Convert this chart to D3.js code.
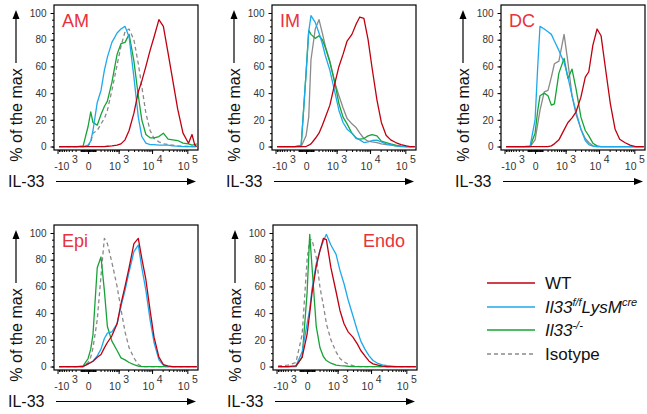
<!DOCTYPE html>
<html>
<head>
<meta charset="utf-8">
<script src="https://d3js.org/d3.v7.min.js"></script>
<style>
body { margin: 0; background: #fff; }
svg { display: block; font-family: Arial, "Liberation Sans", sans-serif; }
</style>
</head>
<body>
<svg id="chart" width="647" height="414"></svg>
<script>
// IL-33 intensity at which every histogram was read (shared by all curves)
const il33Grid = [-890, -400, -170, -60, 0, 30, 60, 130, 210, 300, 400, 590, 890, 1190, 1600, 2130,
    2970, 4000, 5060, 6650, 8780, 11400, 15700, 21000, 28600, 38600, 53500, 75500, 108000, 135500, 162600, 185000]

const panelNames = ["AM", "IM", "DC", "Epi", "Endo"]

// % of the max, one array per genotype and cell type
const amWT = [0, 0, 0, 0, 0, 0, 0, 0, 0, 0, 0.2, 0.5, 1, 2, 5, 12, 25, 41, 49, 60, 72, 82, 95, 90, 70, 50, 28, 10, 2.5, 9, 1, 0]
const amFlox = [0, 0, 0, 0, 1, 4, 12, 33, 42, 57, 67, 78, 85, 88, 90, 82, 52, 22, 7.5, 2.5, 1.5, 1.5, 1, 1, 1, 0.5, 0.3, 0, 0, 0, 0, 0]
const amKO = [0, 0, 0, 0.5, 15, 26, 18, 16, 24, 30, 34, 48, 69, 77, 78, 84, 64, 38, 20, 9, 6.5, 6.5, 7.5, 10, 5.5, 5, 4.5, 2.5, 2, 1, 1.5, 2]
const amIso = [0, 0, 0, 0, 0.5, 3, 10, 12, 17, 21, 27, 42, 61, 75, 86, 88, 80, 62, 45, 25, 12, 6, 3.5, 2, 1.5, 1, 0.5, 0.3, 0, 0, 0, 0]

const imWT = [0, 0, 0, 0, 0, 1, 2, 6, 10, 16, 22, 31, 48, 60, 69, 79, 84, 92, 97, 96, 80, 59, 35, 18, 8.5, 5, 3, 1.5, 0.5, 0, 0, 0]
const imFlox = [0, 0, 0, 1, 55, 86, 98, 93, 85, 77, 68, 57, 40, 27, 18, 13, 10, 6.5, 5, 3, 3.5, 4.5, 4.8, 3.5, 2, 1.5, 0.5, 0.2, 0, 0, 0, 0]
const imKO = [0, 0, 0, 0.5, 55, 87, 84, 81, 83, 80, 74, 63, 47, 32, 22, 17, 10, 6, 5.5, 6, 8, 9, 8, 4, 3, 2, 1, 0.3, 0, 0, 0, 0]
const imIso = [0, 0, 0, 0, 8, 22, 65, 88, 95, 85, 75, 64, 47, 38, 29, 21, 17, 14, 10, 6, 4, 3.5, 3, 2, 1.5, 1, 0.5, 0, 0, 0, 0, 0]

const dcWT = [0, 0, 0, 0, 0, 0, 0, 0, 0, 0.5, 2, 5, 12.5, 18, 21.5, 26, 37, 52, 56, 76, 88, 83, 56, 32, 13, 5.5, 3, 1, 0, 0, 0, 0]
const dcFlox = [0, 0, 0, 0.5, 20, 60, 90, 88, 86, 84, 79, 72, 63, 52, 38, 26, 13, 4.5, 1.5, 0.3, 0, 0, 0, 0, 0, 0, 0, 0, 0, 0, 0, 0]
const dcKO = [0, 0, 0, 0, 10, 27, 38, 40, 38, 31, 32, 55, 66, 51, 58, 43, 22, 12, 8, 2.5, 0.5, 0, 0, 0, 0, 0, 0, 0, 0, 0, 0, 0]
const dcIso = [0, 0, 0, 0, 5, 17, 27, 41, 42, 52, 62, 64, 84, 63, 38, 24, 13, 6, 3, 0.5, 0, 0, 0, 0, 0, 0, 0, 0, 0, 0, 0, 0]

const epiWT = [0, 0, 0, 0, 2, 3, 4, 7, 9, 14, 18, 23, 32, 47, 60, 74, 92, 96, 81, 65, 42, 22, 7, 1.5, 0.3, 0, 0, 0, 0, 0, 0, 0]
const epiFlox = [0, 0, 0, 0, 2, 3, 4, 8, 13, 21, 25, 26, 32, 45, 57, 71, 86, 91, 74, 57, 35, 18, 5, 1, 0.2, 0, 0, 0, 0, 0, 0, 0]
const epiKO = [0, 0, 0, 0.5, 6, 13, 24, 74, 82, 57, 30, 19, 12, 6.5, 5, 3, 1.5, 0.3, 0, 0, 0, 0, 0, 0, 0, 0, 0, 0, 0, 0, 0, 0]
const epiIso = [0, 0, 0, 0, 3, 7, 14, 35, 68, 96, 92, 78, 60, 43, 26, 14, 6.5, 1.5, 0, 0, 0, 0, 0, 0, 0, 0, 0, 0, 0, 0, 0, 0]

const endoWT = [0, 0, 0.5, 7, 24, 40, 55, 75, 87, 96, 95, 74, 56, 42, 32, 26, 22, 17, 12, 8, 4, 2, 1, 0.3, 0, 0, 0, 0, 0, 0, 0, 0]
const endoFlox = [0, 0, 0.3, 11, 32, 43, 58, 77, 87, 94, 99, 91, 84, 72, 62, 50, 38, 27, 19, 13, 8, 4.5, 2.3, 1.2, 0.6, 0.3, 0, 0, 0, 0, 0, 0]
const endoKO = [0, 0, 0, 7, 55, 99, 75, 30, 14, 7.5, 4.5, 2.5, 1, 0.7, 0.5, 0.2, 0, 0, 0, 0, 0, 0, 0, 0, 0, 0, 0, 0, 0, 0, 0, 0]
const endoIso = [0.5, 1, 3, 24, 80, 95, 95, 82, 59, 46, 32, 20, 11, 6, 3.5, 1.8, 0.7, 0.2, 0, 0, 0, 0, 0, 0, 0, 0, 0, 0, 0, 0, 0, 0]

// isotype drawn dashed only in some panels
const isoDashed = [true, false, false, true, true]

// axis ticks
const yTicks = [0, 20, 40, 60, 80, 100]
const xTicks = [-1000, 0, 1000, 10000, 100000]
const xTickBase = ["-10", "0", "10", "10", "10"]
const xTickExp = ["3", "", "3", "4", "5"]

const seriesKeys = ["iso", "ko", "flox", "wt"]
const colors = { wt: "#c00010", flox: "#1ea9ec", ko: "#17a337", iso: "#8a8a8a" }

const panelData = [
    [amIso, amKO, amFlox, amWT],
    [imIso, imKO, imFlox, imWT],
    [dcIso, dcKO, dcFlox, dcWT],
    [epiIso, epiKO, epiFlox, epiWT],
    [endoIso, endoKO, endoFlox, endoWT],
]

// layout
const pw = 144, ph = 145
const panelPos = [[54, 5], [272, 5], [501, 5], [54, 225], [273, 225]]

const svg = d3.select("#chart")

// biexponential-like display, symlog is close enough to FlowJo's logicle
const x = d3.scaleSymlog().constant(160).domain([-1300, 200000]).range([0, pw])
const y = d3.scaleLinear().domain([-2.6, 106]).range([ph, 0])

// minor ticks on the x axis
const minorX = []
for (let k = 1; k <= 4; k++) {
    for (let m = 1; m <= 9; m++) {
        const v = m * Math.pow(10, k)
        if (v < 200000) minorX.push(v)
        if (v < 1000) minorX.push(-v)
    }
}
const minorY = d3.range(0, 101, 5)

const line = d3.line()
    .x((d, i) => x(il33Grid[i]))
    .y(d => y(d))

panelData.forEach(function (series, p) {
    const [left, top] = panelPos[p]
    const g = svg.append("g").attr("transform", `translate(${left},${top})`)

    g.append("clipPath").attr("id", "clip" + p)
        .append("rect").attr("width", pw).attr("height", ph)

    // curves
    const curves = g.append("g").attr("clip-path", `url(#clip${p})`)
    series.forEach(function (vals, s) {
        const key = seriesKeys[s]
        curves.append("path")
            .datum(vals)
            .attr("d", line)
            .attr("fill", "none")
            .attr("stroke", colors[key])
            .attr("stroke-width", 1.3)
            .attr("stroke-linejoin", "round")
            .attr("stroke-dasharray", key === "iso" && isoDashed[p] ? "4,3" : null)
    })

    // frame
    g.append("rect").attr("width", pw).attr("height", ph)
        .attr("fill", "none").attr("stroke", "#000").attr("stroke-width", 1.2)

    // y axis
    const yMinor = g.append("g").call(d3.axisLeft(y).tickValues(minorY).tickSize(2).tickFormat(""))
    const yMajor = g.append("g").call(d3.axisLeft(y).tickValues(yTicks).tickSize(3.5).tickPadding(4))
    yMajor.selectAll("text").attr("font-size", 10).attr("fill", "#333").attr("font-family", "Arial, 'Liberation Sans', sans-serif")

    // x axis
    const xMinor = g.append("g").attr("transform", `translate(0,${ph})`)
        .call(d3.axisBottom(x).tickValues(minorX).tickSize(2).tickFormat(""))
    const xMajor = g.append("g").attr("transform", `translate(0,${ph})`)
        .call(d3.axisBottom(x).tickValues(xTicks).tickSize(4).tickFormat(""))
    xMajor.selectAll(".tick").append("text")
        .attr("y", 20)
        .attr("dx", (d, i) => i === 0 ? 8 : 0)
        .attr("text-anchor", "middle")
        .attr("font-size", 10.5)
        .attr("fill", "#333")
        .attr("font-family", "Arial, 'Liberation Sans', sans-serif")
        .each(function (d, i) {
            const t = d3.select(this)
            t.append("tspan").text(xTickBase[i])
            if (xTickExp[i]) t.append("tspan").attr("dy", -7).attr("dx", 2.5).text(xTickExp[i])
        })

    ;[yMinor, yMajor, xMinor, xMajor].forEach(a => {
        a.select(".domain").remove()
        a.selectAll("line").attr("stroke", "#000")
    })

    // panel title
    const isEndo = panelNames[p] === "Endo"
    g.append("text")
        .attr("x", isEndo ? pw - 12 : 8)
        .attr("y", 22)
        .attr("text-anchor", isEndo ? "end" : "start")
        .attr("font-size", 18)
        .attr("fill", "#e8323c")
        .text(panelNames[p])

    // y label with arrow
    const ly = -38
    g.append("text")
        .attr("transform", `translate(${ly},110) rotate(-90)`)
        .attr("text-anchor", "middle")
        .attr("dominant-baseline", "central")
        .attr("font-size", 16)
        .attr("fill", "#111")
        .text("% of the max")
    g.append("line").attr("x1", ly).attr("x2", ly).attr("y1", 58).attr("y2", 12)
        .attr("stroke", "#000").attr("stroke-width", 1.2)
    g.append("path").attr("d", `M${ly},5 L${ly - 3.5},14 L${ly + 3.5},14 Z`).attr("fill", "#000")

    // x label with arrow
    const ay = ph + 31.5
    g.append("text")
        .attr("x", -46).attr("y", ph + 37)
        .attr("font-size", 16)
        .attr("fill", "#111")
        .text("IL-33")
    g.append("line").attr("x1", 2).attr("x2", pw - 8).attr("y1", ay).attr("y2", ay)
        .attr("stroke", "#000").attr("stroke-width", 1.2)
    g.append("path").attr("d", `M${pw - 2},${ay} L${pw - 11},${ay - 3.5} L${pw - 11},${ay + 3.5} Z`).attr("fill", "#000")
})

// legend
const legendKeys = ["wt", "flox", "ko", "iso"]
const legendLabels = [
    [{ t: "WT" }],
    [{ t: "Il33", i: true }, { t: "f/f", i: true, sup: true }, { t: "LysM", i: true }, { t: "cre", i: true, sup: true }],
    [{ t: "Il33", i: true }, { t: "-/-", i: true, sup: true }],
    [{ t: "Isotype" }],
]
const legendY = [283, 307, 330, 354]

const legend = svg.append("g")
legendKeys.forEach(function (key, i) {
    const ly = legendY[i]
    legend.append("line")
        .attr("x1", 487).attr("x2", 535).attr("y1", ly).attr("y2", ly)
        .attr("stroke", colors[key]).attr("stroke-width", 1.3)
        .attr("stroke-dasharray", key === "iso" ? "4,3" : null)
    const txt = legend.append("text")
        .attr("x", 545).attr("y", ly + 6)
        .attr("font-size", 17)
        .attr("fill", "#111")
    let raised = false
    legendLabels[i].forEach(function (part) {
        const ts = txt.append("tspan").text(part.t)
        if (part.i) ts.attr("font-style", "italic")
        if (part.sup && !raised) { ts.attr("dy", -7).attr("font-size", 11); raised = true }
        else if (part.sup) ts.attr("font-size", 11)
        else if (raised) { ts.attr("dy", 7); raised = false }
    })
})
</script>
</body>
</html>
